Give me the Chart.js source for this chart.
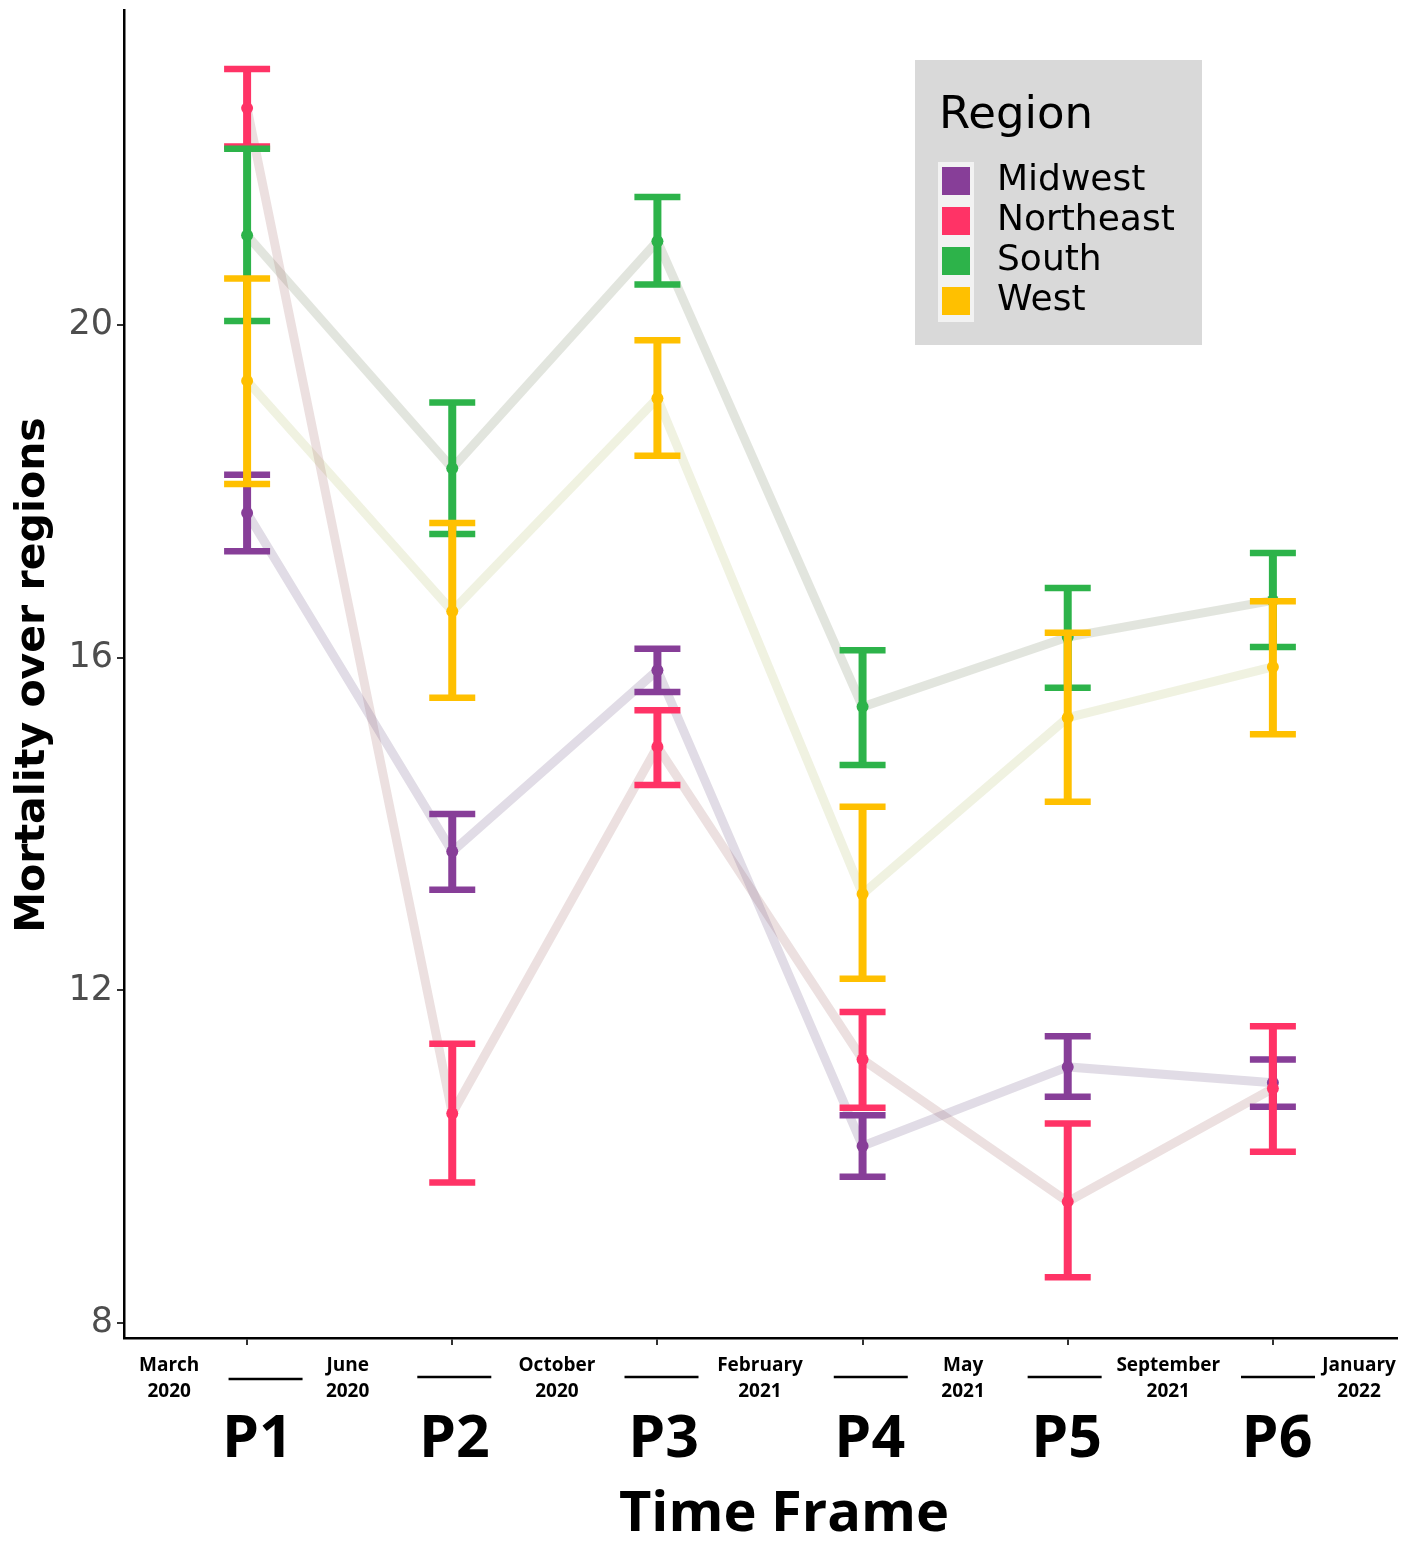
<!DOCTYPE html>
<html>
<head>
<meta charset="utf-8">
<script src="https://cdn.jsdelivr.net/npm/chart.js@4/dist/chart.umd.min.js"></script>
<style>
  body { margin: 0; background: #fff; }
  .wrap { width: 1402px; height: 1541px; position: relative; }
</style>
</head>
<body>
<div class="wrap"><canvas id="myChart"></canvas></div>
<script>
// periods on the x axis
const periods = ['P1', 'P2', 'P3', 'P4', 'P5', 'P6']
const dateTop = ['March', 'June', 'October', 'February', 'May', 'September', 'January']
const dateBottom = ['2020', '2020', '2020', '2021', '2021', '2021', '2022']
const datePos = [-0.38, 0.49, 1.51, 2.5, 3.49, 4.49, 5.42]
const yTicks = [8, 12, 16, 20]

const regions = ['Midwest', 'Northeast', 'South', 'West']

const midwestMean = [17.74, 13.67, 15.85, 10.13, 11.08, 10.89]
const midwestLow  = [17.28, 13.21, 15.59, 9.76, 10.72, 10.60]
const midwestHigh = [18.20, 14.12, 16.11, 10.50, 11.45, 11.17]

const northeastMean = [22.61, 10.52, 14.93, 11.17, 9.46, 10.82]
const northeastLow  = [22.15, 9.69, 14.47, 10.59, 8.55, 10.06]
const northeastHigh = [23.08, 11.36, 15.37, 11.74, 10.40, 11.57]

const southMean = [21.08, 18.28, 21.01, 15.41, 16.25, 16.69]
const southLow  = [20.05, 17.49, 20.49, 14.71, 15.64, 16.13]
const southHigh = [22.12, 19.07, 21.54, 16.09, 16.84, 17.26]

const westMean = [19.33, 16.56, 19.12, 13.16, 15.28, 15.89]
const westLow  = [18.09, 15.52, 18.43, 12.14, 14.27, 15.08]
const westHigh = [20.56, 17.62, 19.82, 14.21, 16.30, 16.68]

const means = [midwestMean, northeastMean, southMean, westMean]
const lows = [midwestLow, northeastLow, southLow, westLow]
const highs = [midwestHigh, northeastHigh, southHigh, westHigh]

const barColors = ['#873e98', '#ff3366', '#2db34a', '#ffc000']
const lineColors = ['rgba(105,80,130,0.2)', 'rgba(160,100,100,0.2)', 'rgba(95,110,70,0.18)', 'rgba(180,190,105,0.2)']

const datasets = regions.map((name, r) => ({
  label: name,
  data: means[r].map((v, i) => ({ x: i, y: v })),
  borderColor: lineColors[r],
  borderWidth: 9,
  pointRadius: 0,
  fill: false,
  tension: 0
}))

// error bars + mean points, drawn over the lines
const errorBars = {
  id: 'errorBars',
  afterDatasetsDraw(chart) {
    const ctx = chart.ctx
    const xs = chart.scales.x
    const ys = chart.scales.y
    const half = 23
    ctx.save()
    regions.forEach((name, r) => {
      ctx.strokeStyle = barColors[r]
      ctx.fillStyle = barColors[r]
      ctx.lineCap = 'butt'
      means[r].forEach((v, i) => {
        const px = xs.getPixelForValue(i)
        const lo = ys.getPixelForValue(lows[r][i])
        const hi = ys.getPixelForValue(highs[r][i])
        ctx.lineWidth = 8
        ctx.beginPath()
        ctx.moveTo(px, lo)
        ctx.lineTo(px, hi)
        ctx.stroke()
        ctx.lineWidth = 6.5
        ctx.beginPath()
        ctx.moveTo(px - half, lo)
        ctx.lineTo(px + half, lo)
        ctx.moveTo(px - half, hi)
        ctx.lineTo(px + half, hi)
        ctx.stroke()
      })
      means[r].forEach((v, i) => {
        ctx.beginPath()
        ctx.arc(xs.getPixelForValue(i), ys.getPixelForValue(v), 6, 0, Math.PI * 2)
        ctx.fill()
      })
    })
    ctx.restore()
  }
}

// labels, titles and legend box
const dashShift = [0.09, 0.01, 0.02, 0.04, -0.015, 0.025]
const pShift = [0.05, 0.01, 0.03, 0.035, -0.005, 0.02]

const decorations = {
  id: 'decorations',
  afterDraw(chart) {
    const ctx = chart.ctx
    const xs = chart.scales.x
    ctx.save()

    // y title
    ctx.save()
    ctx.translate(33, 675)
    ctx.rotate(-Math.PI / 2)
    ctx.font = 'bold 41px "DejaVu Sans"'
    ctx.fillStyle = '#000'
    ctx.textAlign = 'center'
    ctx.textBaseline = 'middle'
    ctx.fillText('Mortality over regions', 0, 0)
    ctx.restore()

    // date labels
    ctx.fillStyle = '#000'
    ctx.textAlign = 'center'
    ctx.textBaseline = 'middle'
    ctx.font = 'bold 19px "Open Sans"'
    dateTop.forEach((t, i) => {
      const px = xs.getPixelForValue(datePos[i])
      ctx.fillText(t, px, 1366)
      ctx.fillText(dateBottom[i], px, 1392)
    })

    // underscores and period names
    ctx.strokeStyle = '#000'
    ctx.lineWidth = 2.5
    periods.forEach((p, i) => {
      const px = xs.getPixelForValue(i + dashShift[i])
      const yy = i === 0 ? 1379 : 1377
      ctx.beginPath()
      ctx.moveTo(px - 37, yy)
      ctx.lineTo(px + 37, yy)
      ctx.stroke()
      ctx.font = 'bold 59px "Open Sans"'
      ctx.fillText(p, xs.getPixelForValue(i + pShift[i]), 1440)
    })

    ctx.font = 'bold 56px "Open Sans"'
    ctx.fillText('Time Frame', 784, 1515)

    // legend
    ctx.fillStyle = '#d9d9d9'
    ctx.fillRect(915, 60, 287, 285)
    ctx.fillStyle = '#000'
    ctx.textAlign = 'left'
    ctx.textBaseline = 'alphabetic'
    ctx.font = '45px "DejaVu Sans"'
    ctx.fillText('Region', 939, 128)
    ctx.fillStyle = '#f2f2f2'
    ctx.fillRect(938, 162, 36, 160)
    ctx.font = '36px "DejaVu Sans"'
    ctx.textBaseline = 'middle'
    regions.forEach((name, r) => {
      const cy = 181 + r * 40
      ctx.fillStyle = barColors[r]
      ctx.fillRect(942, cy - 14, 28, 28)
      ctx.fillStyle = '#000'
      ctx.fillText(name, 997, cy)
    })
    ctx.restore()
  }
}

const config = {
  type: 'line',
  data: { datasets: datasets },
  options: {
    responsive: true,
    maintainAspectRatio: false,
    animation: false,
    layout: { padding: { top: 10, right: 5, left: 0, bottom: 0 } },
    plugins: { legend: { display: false }, tooltip: { enabled: false } },
    scales: {
      x: {
        type: 'linear',
        min: -0.6,
        max: 5.605,
        afterBuildTicks(scale) { scale.ticks = periods.map((p, i) => ({ value: i })) },
        afterFit(scale) { scale.height = 203; scale.paddingLeft = 0; scale.paddingRight = 0 },
        ticks: { display: false },
        grid: { drawOnChartArea: false, drawTicks: true, tickLength: 7, color: '#333', lineWidth: 2 },
        border: { color: '#000', width: 2.5 }
      },
      y: {
        min: 7.82,
        max: 23.79,
        afterBuildTicks(scale) { scale.ticks = yTicks.map(v => ({ value: v })) },
        afterFit(scale) { scale.width = 124; scale.paddingTop = 0; scale.paddingBottom = 0 },
        ticks: { color: '#4d4d4d', font: { family: 'DejaVu Sans', size: 35 }, padding: 4 },
        grid: { drawOnChartArea: false, drawTicks: true, tickLength: 7, color: '#333', lineWidth: 2 },
        border: { color: '#000', width: 2.5 }
      }
    }
  },
  plugins: [errorBars, decorations]
}

const salesChart = new Chart(document.getElementById('myChart'), config)
</script>
</body>
</html>
